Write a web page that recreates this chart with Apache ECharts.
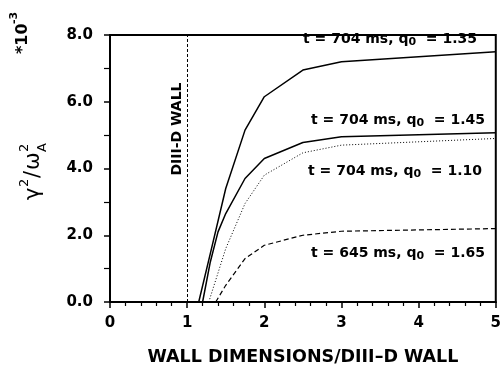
<!DOCTYPE html>
<html>
<head>
<meta charset="utf-8">
<script src="https://cdn.jsdelivr.net/npm/echarts@6/dist/echarts.min.js"></script>
<style>html,body{margin:0;padding:0;background:#fff}#c{width:504px;height:373px}</style>
</head>
<body>
<div id="c"></div>
<script>
// ---- data ----
var xTicks = [0, 1, 2, 3, 4, 5];
var yTicks = [0, 2, 4, 6, 8];
var wallX = 1;
var q135X = [1.15, 1.3, 1.5, 1.75, 2.0, 2.5, 3.0, 5.0];
var q135Y = [0, 1.45, 3.4, 5.15, 6.15, 6.95, 7.2, 7.5];
var q145X = [1.2, 1.3, 1.4, 1.5, 1.75, 2.0, 2.5, 3.0, 5.0];
var q145Y = [0, 1.2, 2.1, 2.65, 3.7, 4.3, 4.78, 4.95, 5.07];
var q110X = [1.28, 1.5, 1.75, 2.0, 2.5, 3.0, 5.0];
var q110Y = [0, 1.6, 2.95, 3.8, 4.47, 4.7, 4.9];
var q165X = [1.37, 1.5, 1.75, 2.0, 2.5, 3.0, 5.0];
var q165Y = [0, 0.5, 1.3, 1.7, 2.0, 2.12, 2.2];
var labels = [
  {t: '704', q: '1.35'},
  {t: '704', q: '1.45'},
  {t: '704', q: '1.10'},
  {t: '645', q: '1.65'}
];

function pairs(xs, ys) { return xs.map(function (x, i) { return [x, ys[i]]; }); }

var FONT = 'DejaVu Sans';
var chart = echarts.init(document.getElementById('c'), null, {renderer: 'canvas'});

function annot(l, left, top) {
  return {
    type: 'text', left: left, top: top,
    style: {
      rich: {
        m: {fontFamily: FONT, fontWeight: 'bold', fontSize: 14, fill: '#000'},
        s: {fontFamily: FONT, fontWeight: 'bold', fontSize: 11, fill: '#000', padding: [6, 0, 0, 0]}
      },
      text: '{m|t = ' + l.t + ' ms, q}{s|0}{m|  = ' + l.q + '}'
    }
  };
}

var option = {
  animation: false,
  grid: {left: 110, right: 5, top: 35, bottom: 71, show: true, borderColor: '#000', borderWidth: 2},
  xAxis: {
    type: 'value', min: xTicks[0], max: xTicks[xTicks.length - 1], interval: 1,
    name: 'WALL DIMENSIONS/DIII\u2013D WALL', nameLocation: 'middle', nameGap: 46,
    nameTextStyle: {fontFamily: FONT, fontWeight: 'bold', fontSize: 17.5, color: '#000'},
    axisLine: {lineStyle: {color: '#000', width: 2}},
    axisTick: {inside: false, length: 6, lineStyle: {color: '#000', width: 1.5}},
    minorTick: {show: true, splitNumber: 5, length: 4, lineStyle: {color: '#000', width: 1.2}},
    splitLine: {show: false},
    axisLabel: {fontFamily: FONT, fontWeight: 'bold', fontSize: 15, color: '#000', margin: 14}
  },
  yAxis: {
    type: 'value', min: yTicks[0], max: yTicks[yTicks.length - 1], interval: 2,
    axisLine: {lineStyle: {color: '#000', width: 2}},
    axisTick: {inside: false, length: 6, lineStyle: {color: '#000', width: 1.5}},
    minorTick: {show: true, splitNumber: 2, length: 6, lineStyle: {color: '#000', width: 1.2}},
    splitLine: {show: false},
    axisLabel: {fontFamily: FONT, fontWeight: 'bold', fontSize: 15, color: '#000', margin: 17,
      formatter: function (v) { return v.toFixed(1); }}
  },
  series: [
    {type: 'line', data: pairs(q135X, q135Y), symbol: 'none', lineStyle: {color: '#000', width: 1.5},
      markLine: {silent: true, symbol: 'none', label: {show: false},
        lineStyle: {color: '#000', width: 1, type: [3, 2]}, data: [{xAxis: wallX}]}},
    {type: 'line', data: pairs(q145X, q145Y), symbol: 'none', lineStyle: {color: '#000', width: 1.5}},
    {type: 'line', data: pairs(q110X, q110Y), symbol: 'none', lineStyle: {color: '#000', width: 1, type: [1, 2]}},
    {type: 'line', data: pairs(q165X, q165Y), symbol: 'none', lineStyle: {color: '#000', width: 1.2, type: [5, 3]}}
  ],
  graphic: [
    annot(labels[0], 303, 32),
    annot(labels[1], 311, 113),
    annot(labels[2], 308, 164),
    annot(labels[3], 311, 246),
    {type: 'text', x: 177, y: 129, rotation: Math.PI / 2,
      style: {text: 'DIII-D WALL', fontFamily: FONT, fontWeight: 'bold', fontSize: 14, fill: '#000',
        align: 'center', verticalAlign: 'middle'}},
    {type: 'group', x: 34, y: 200, rotation: Math.PI / 2, children: [
      {type: 'text', x: 0, y: 0, style: {text: '\u03b3', fontFamily: FONT, fontSize: 21, fill: '#000', verticalAlign: 'middle'}},
      {type: 'text', x: 13, y: -9, style: {text: '2', fontFamily: FONT, fontSize: 13, fill: '#000', verticalAlign: 'middle'}},
      {type: 'text', x: 22, y: 0, style: {text: '/', fontFamily: FONT, fontSize: 21, fill: '#000', verticalAlign: 'middle'}},
      {type: 'text', x: 30, y: 0, style: {text: '\u03c9', fontFamily: FONT, fontSize: 21, fill: '#000', verticalAlign: 'middle'}},
      {type: 'text', x: 48, y: -9, style: {text: '2', fontFamily: FONT, fontSize: 13, fill: '#000', verticalAlign: 'middle'}},
      {type: 'text', x: 48, y: 9, style: {text: 'A', fontFamily: FONT, fontSize: 13, fill: '#000', verticalAlign: 'middle'}}
    ]},
    {type: 'group', x: 23, y: 54, rotation: Math.PI / 2, children: [
      {type: 'text', x: 0, y: 0, style: {text: '*10', fontFamily: FONT, fontWeight: 'bold', fontSize: 16, fill: '#000', verticalAlign: 'middle'}},
      {type: 'text', x: 30, y: -9, style: {text: '-3', fontFamily: FONT, fontWeight: 'bold', fontSize: 11, fill: '#000', verticalAlign: 'middle'}}
    ]}
  ]
};
chart.setOption(option);
</script>
</body>
</html>
